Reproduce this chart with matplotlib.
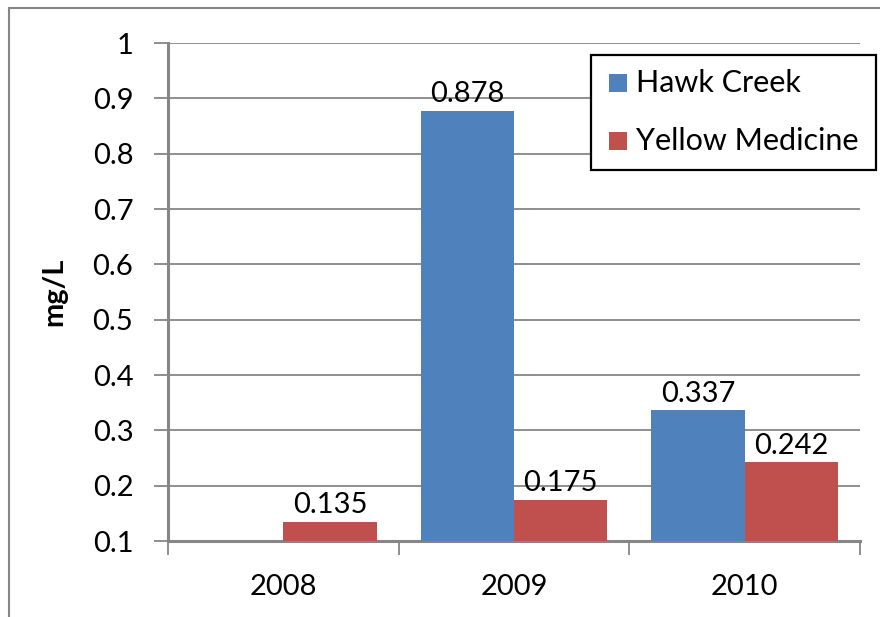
import matplotlib
matplotlib.use("Agg")
import matplotlib.pyplot as plt
from matplotlib.patches import Rectangle
import numpy as np

years = ["2008", "2009", "2010"]
hawk_creek = [None, 0.878, 0.337]
yellow_medicine = [0.135, 0.175, 0.242]
y_ticks = [0.1, 0.2, 0.3, 0.4, 0.5, 0.6, 0.7, 0.8, 0.9, 1.0]
y_tick_labels = ["0.1", "0.2", "0.3", "0.4", "0.5", "0.6", "0.7", "0.8", "0.9", "1"]

BLUE = "#4F81BD"
RED = "#C0504D"
GRID = "#868686"
FONT = "Lato"
FS = 21

fig = plt.figure(figsize=(8.8, 6.17), dpi=100)
W, H = 880, 617
ax = fig.add_axes([168 / W, 1 - 541 / H, (860 - 168) / W, (541 - 43) / H])

x = np.arange(len(years))
bw = 0.405
base = 0.1
for i, v in enumerate(hawk_creek):
    if v is not None:
        ax.bar(x[i] - bw / 2, v - base, bw, bottom=base, color=BLUE, zorder=3)
        ax.text(x[i] - bw / 2, v + 0.006, f"{v:.3f}", ha="center", va="bottom",
                fontsize=FS, family=FONT, zorder=4)
for i, v in enumerate(yellow_medicine):
    ax.bar(x[i] + bw / 2, v - base, bw, bottom=base, color=RED, zorder=3)
    ax.text(x[i] + bw / 2, v + 0.006, f"{v:.3f}", ha="center", va="bottom",
            fontsize=FS, family=FONT, zorder=4)

ax.set_xlim(-0.5, 2.5)
ax.set_ylim(0.1, 1.0)
ax.set_yticks(y_ticks)
ax.set_yticklabels(y_tick_labels, family=FONT, fontsize=FS)
ax.yaxis.grid(True, color=GRID, linewidth=1.3, zorder=0)
ax.set_axisbelow(True)

ax.set_xticks(x)
ax.set_xticklabels(years, family=FONT, fontsize=FS)
ax.tick_params(axis="x", length=0, pad=24)
ax.set_xticks([-0.5, 0.5, 1.5, 2.5], minor=True)
ax.tick_params(axis="x", which="minor", length=10, width=1.3, color=GRID, direction="out")
ax.tick_params(axis="y", length=10, width=1.3, color=GRID, direction="out", pad=15)

for s in ["top", "right"]:
    ax.spines[s].set_visible(False)
for s in ["left", "bottom"]:
    ax.spines[s].set_color(GRID)
    ax.spines[s].set_linewidth(2.2)

ax.set_ylabel("mg/L", family=FONT, fontsize=FS, fontweight="bold", labelpad=18)

# outer chart frame
fig.patches.append(Rectangle((8.5 / W, -0.1), 1.2, 1 - 7.5 / H + 0.1,
                             transform=fig.transFigure, fill=False,
                             edgecolor=GRID, linewidth=1.5))

# legend box
lx0, ly0, lx1, ly1 = 591, 55, 876, 170
fig.patches.append(Rectangle((lx0 / W, 1 - ly1 / H), (lx1 - lx0) / W, (ly1 - ly0) / H,
                             transform=fig.transFigure, facecolor="white",
                             edgecolor="black", linewidth=1.6, zorder=5))
entries = [("Hawk Creek", BLUE, 83), ("Yellow Medicine", RED, 141)]
for label, color, cy in entries:
    fig.patches.append(Rectangle((609 / W, 1 - (cy + 9) / H), 18 / W, 18 / H,
                                 transform=fig.transFigure, facecolor=color,
                                 edgecolor="none", zorder=6))
    fig.text(636 / W, 1 - cy / H, label, ha="left", va="center",
             family=FONT, fontsize=22, zorder=7)

fig.savefig("out.png", dpi=100, facecolor="white")
